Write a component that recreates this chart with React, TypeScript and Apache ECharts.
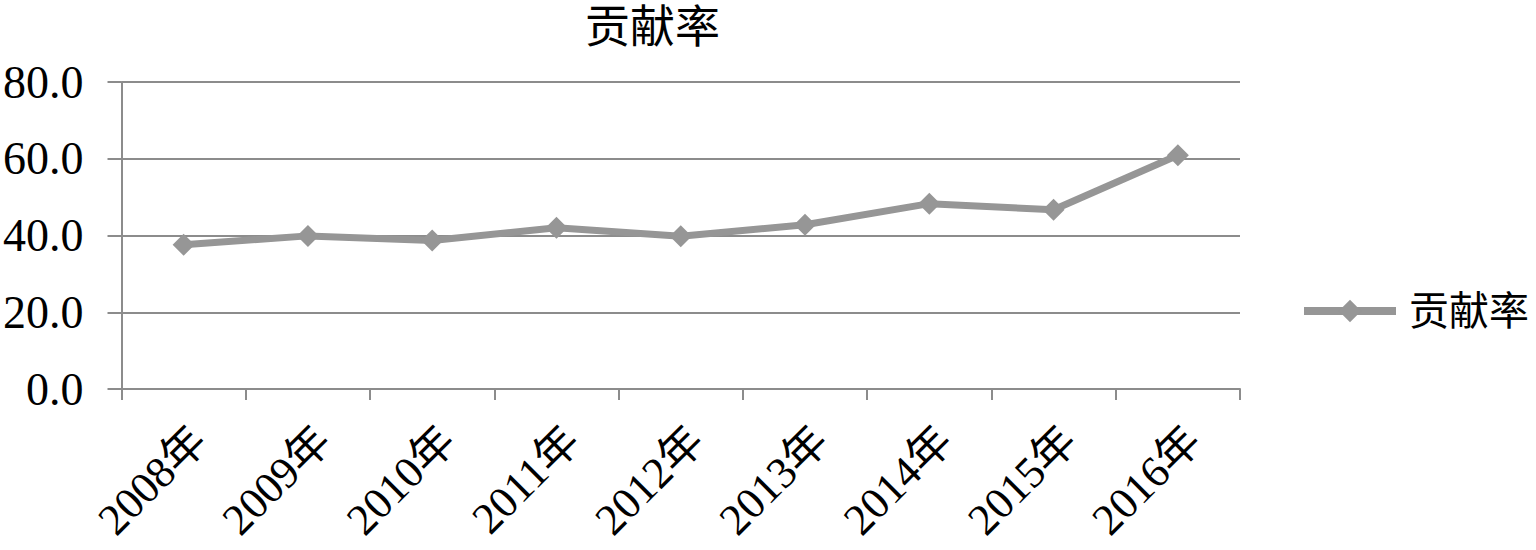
import React, { useEffect, useRef } from "react";
import * as echarts from "echarts";

const categories = ["2008年", "2009年", "2010年", "2011年", "2012年", "2013年", "2014年", "2015年", "2016年"];
const values = [37.6, 39.9, 38.7, 42.0, 39.8, 42.8, 48.3, 46.7, 60.9];
const seriesName = "贡献率";
const titleText = "贡献率";

const FONT = "'Liberation Serif', 'Times New Roman', 'Noto Sans CJK SC', serif";
const GRAY = "#969696";
const AXIS = "#8c8c8c";

export default function App() {
  const ref = useRef<HTMLDivElement>(null);
  useEffect(() => {
    if (!ref.current) return;
    const chart = echarts.init(ref.current, undefined, { renderer: "svg" });
    chart.setOption({
      animation: false,
      backgroundColor: "#ffffff",
      title: {
        text: titleText,
        left: 580,
        top: 0,
        textStyle: { fontFamily: FONT, fontSize: 45, fontWeight: "normal", color: "#000" },
      },
      legend: {
        data: [seriesName],
        right: 2,
        top: 286,
        orient: "vertical",
        itemWidth: 92,
        itemHeight: 28,
        lineStyle: { width: 8, color: GRAY },
        itemStyle: { color: GRAY },
        textStyle: { fontFamily: FONT, fontSize: 40, color: "#000", padding: [0, 0, 0, 8] },
      },
      grid: { left: 121, right: 296, top: 82, bottom: 161, containLabel: false },
      xAxis: {
        type: "category",
        data: categories,
        boundaryGap: true,
        axisLine: { show: true, lineStyle: { color: AXIS, width: 2 } },
        axisTick: { show: true, length: 11, lineStyle: { color: AXIS, width: 2 } },
        axisLabel: {
          rotate: 45,
          interval: 0,
          margin: 29,
          lineHeight: 44,
          formatter: (v: string) => "\n" + v,
          fontFamily: FONT,
          fontSize: 44,
          color: "#000",
        },
      },
      yAxis: {
        type: "value",
        min: 0,
        max: 80,
        interval: 20,
        axisLine: { show: true, lineStyle: { color: AXIS, width: 2 } },
        axisTick: { show: true, length: 14, lineStyle: { color: AXIS, width: 2 } },
        splitLine: { show: true, lineStyle: { color: AXIS, width: 2 } },
        axisLabel: {
          margin: 38,
          fontFamily: FONT,
          fontSize: 46,
          color: "#000",
          formatter: (v: number) => v.toFixed(1),
        },
      },
      series: [
        {
          name: seriesName,
          type: "line",
          data: values,
          symbol: "diamond",
          symbolSize: 22,
          lineStyle: { color: GRAY, width: 7 },
          itemStyle: { color: GRAY },
        },
      ],
    });
    return () => chart.dispose();
  }, []);
  return (
    <div
      ref={ref}
      style={{ position: "fixed", left: 0, top: 0, width: 1536, height: 550, background: "#fff" }}
    />
  );
}
